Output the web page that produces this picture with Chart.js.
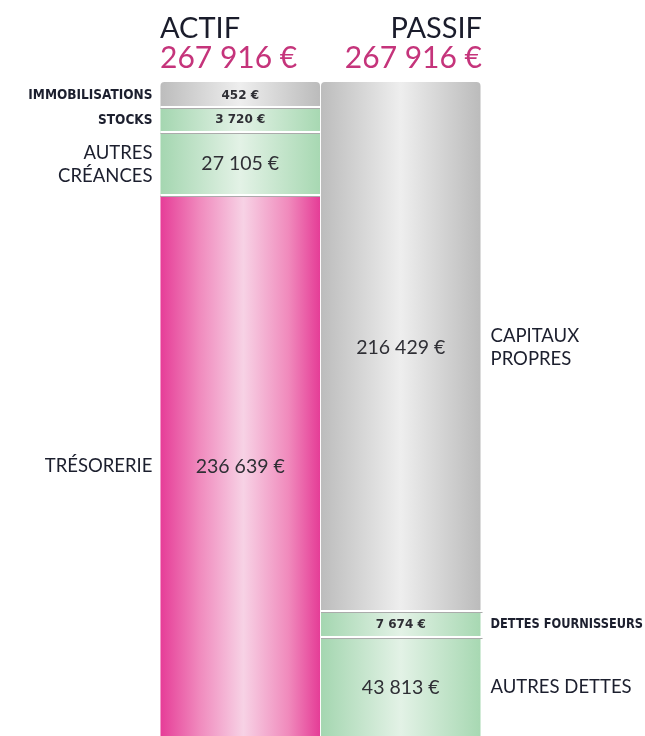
<!DOCTYPE html>
<html><head><meta charset="utf-8">
<script src="https://cdn.jsdelivr.net/npm/chart.js@4"></script>
<style>html,body{margin:0;padding:0;background:#fff;overflow:hidden;height:736px}canvas{display:block}</style>
</head><body>
<canvas id="c" width="645" height="744"></canvas>
<script>
// ---- data ----
const columns = ['ACTIF', 'PASSIF'];
const actifLabels = [['IMMOBILISATIONS'], ['STOCKS'], ['AUTRES', 'CRÉANCES'], ['TRÉSORERIE']];
const actifValues = [452, 3720, 27105, 236639];
const actifColors = ['gray', 'green', 'green', 'pink'];
const passifLabels = [['CAPITAUX', 'PROPRES'], ['DETTES FOURNISSEURS'], ['AUTRES DETTES']];
const passifValues = [216429, 7674, 43813];
const passifColors = ['gray', 'green', 'green'];

// minimum visible share of a segment (small items get a minimum height)
const MIN_SHARE = 0.04;

const fmt = v => String(v).replace(/\B(?=(\d{3})+(?!\d))/g, ' ') + ' €';
const sum = a => a.reduce((s, v) => s + v, 0);

const palettes = {
  gray:  [[0, '#bcbcbc'], [0.5, '#eeeeee'], [1, '#bbbbbb']],
  green: [[0, '#a4d6b0'], [0.5, '#e3f2e6'], [1, '#a7d8b2']],
  pink:  [[0, '#e63c97'], [0.25, '#f08bbe'], [0.52, '#f7d2e5'], [0.8, '#f08abc'], [1, '#e53b96']]
};
const flat = { gray: '#d6d6d6', green: '#c4e4cb', pink: '#f08bbe' };

function gradientFor(chart, idx, kind) {
  const ca = chart.chartArea;
  if (!ca) return flat[kind];
  const xs = chart.scales.x;
  const cx = xs.getPixelForValue(idx);
  const half = xs.width / columns.length / 2;
  const g = chart.ctx.createLinearGradient(cx - half, 0, cx + half, 0);
  palettes[kind].forEach(([o, c]) => g.addColorStop(o, c));
  return g;
}

function buildColumn(values, labels, kinds, col, axis) {
  const total = sum(values);
  const disp = values.map(v => Math.max(v, total * MIN_SHARE));
  const sets = values.map((v, i) => ({
    label: labels[i].join(' '),
    data: columns.map((_, k) => (k === col ? disp[i] : null)),
    real: v,
    lines: labels[i],
    col: col,
    last: i === values.length - 1,
    yAxisID: axis,
    backgroundColor: ctx => gradientFor(ctx.chart, col, kinds[i]),
    borderRadius: i === 0 ? { topLeft: 4, topRight: 4, bottomLeft: 0, bottomRight: 0 } : 0
  }));
  return { sets, max: sum(disp), total };
}

const A = buildColumn(actifValues, actifLabels, actifColors, 0, 'yA');
const P = buildColumn(passifValues, passifLabels, passifColors, 1, 'yP');
const totals = [A.total, P.total];

const SMALL_FONT = 'bold 13.5px "DejaVu Sans Condensed", "DejaVu Sans"';
const SMALL_VAL_FONT = 'bold 12px "DejaVu Sans"';
const BIG_VAL_FONT = '19.5px Lato';
const BIG_FONT = '18.5px Lato';

const labelPlugin = {
  id: 'bilanLabels',
  afterDatasetsDraw(chart) {
    const ctx = chart.ctx;
    const ca = chart.chartArea;
    const visBottom = Math.min(ca.bottom, window.innerHeight || 736);
    ctx.save();
    // separators
    chart.data.datasets.forEach((ds, d) => {
      if (ds.last) return;
      const el = chart.getDatasetMeta(d).data[ds.col];
      const y = Math.round(Math.max(el.y, el.base));
      const x0 = el.x - el.width / 2, w = el.width;
      const ext = ds.col === 1 ? 2 : 0;
      ctx.fillStyle = '#ffffff';
      ctx.fillRect(x0, y - 1, w + ext, 2);
      ctx.fillStyle = '#ababab';
      ctx.fillRect(x0, y + 1, w + ext, 1);
    });
    // texts
    ctx.textBaseline = 'middle';
    chart.data.datasets.forEach((ds, d) => {
      const el = chart.getDatasetMeta(d).data[ds.col];
      const top = Math.max(Math.min(el.y, el.base), ca.top);
      const bottom = Math.min(Math.max(el.y, el.base), visBottom);
      const cy = (top + bottom) / 2 + 1;
      const small = bottom - top < 40;
      // value
      ctx.fillStyle = '#2f2f35';
      ctx.textAlign = 'center';
      ctx.font = small ? SMALL_VAL_FONT : BIG_VAL_FONT;
      ctx.fillText(fmt(ds.real), el.x, cy);
      // category
      ctx.fillStyle = '#1c1f2e';
      ctx.font = small ? SMALL_FONT : BIG_FONT;
      const lh = 23;
      const n = ds.lines.length;
      let x, maxW;
      if (ds.col === 0) { ctx.textAlign = 'right'; x = el.x - el.width / 2 - 8; maxW = x - 4; }
      else { ctx.textAlign = 'left'; x = el.x + el.width / 2 + 10; maxW = chart.width - x - 2; }
      ds.lines.forEach((t, j) => ctx.fillText(t, x, cy + (j - (n - 1) / 2) * lh, maxW));
    });
    // column titles
    const xs = chart.scales.x;
    columns.forEach((c, k) => {
      const cx = xs.getPixelForValue(k);
      const half = xs.width / columns.length / 2;
      const x = k === 0 ? cx - half : cx + half + 1;
      ctx.textAlign = k === 0 ? 'left' : 'right';
      ctx.textBaseline = 'alphabetic';
      ctx.fillStyle = '#1a1c2b';
      ctx.font = '29px Lato';
      ctx.fillText(c, x, 38);
      ctx.fillStyle = '#c5347b';
      ctx.font = '30px Lato';
      ctx.fillText(fmt(totals[k]), x, 68);
    });
    ctx.restore();
  }
};

new Chart(document.getElementById('c'), {
  type: 'bar',
  data: { labels: columns, datasets: [...A.sets, ...P.sets] },
  options: {
    responsive: false,
    animation: false,
    layout: { padding: { left: 160, right: 164, top: 82, bottom: 0 } },
    plugins: { legend: { display: false }, tooltip: { enabled: false }, title: { display: false } },
    datasets: { bar: { barPercentage: 0.994, categoryPercentage: 1, borderWidth: 0, borderSkipped: false } },
    scales: {
      x: { display: false, stacked: true, grid: { display: false } },
      yA: { display: false, stacked: true, reverse: true, min: 0, max: A.max },
      yP: { display: false, stacked: true, reverse: true, min: 0, max: P.max }
    }
  },
  plugins: [labelPlugin]
});
</script>
</body></html>
